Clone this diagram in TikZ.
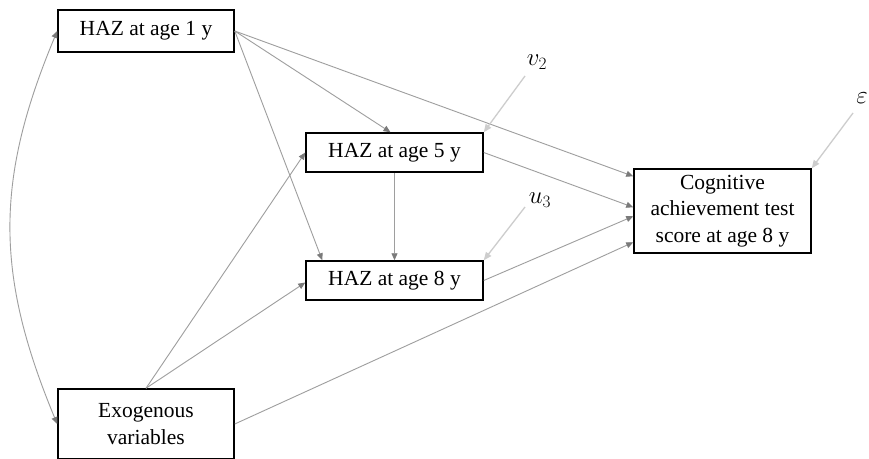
\documentclass[tikz,border=0pt]{standalone}
\usepackage{fontspec}
\setmainfont{Liberation Serif}
\usetikzlibrary{arrows.meta,calc}
\definecolor{lnc}{HTML}{9E9E9E}
\definecolor{tipc}{HTML}{7A7A7A}
\definecolor{errc}{HTML}{CDCDCD}
\tikzset{
  box/.style={draw=black, line width=1.5pt, inner sep=0pt, align=center,
    font=\fontsize{21.5}{26.5}\selectfont},
  path/.style={draw=lnc, line width=0.9pt, -{Triangle[length=7pt,width=6pt,color=tipc]}},
  errpath/.style={draw=errc, line width=1.3pt, -{Triangle[length=8pt,width=6.5pt,color=errc]}},
  errlab/.style={inner sep=0pt, font=\fontsize{23}{26}\selectfont}
}
\begin{document}
\begin{tikzpicture}[x=1pt,y=-1pt]
\useasboundingbox (0,0) rectangle (869,458);
\fill[white] (0,0) rectangle (869,458);
\node[box, minimum width=176pt, minimum height=42pt] (haz1) at (146,31) {HAZ at age 1 y};
\node[box, minimum width=177pt, minimum height=39pt] (haz5) at (394.5,152.5) {HAZ at age 5 y};
\node[box, minimum width=177pt, minimum height=39pt] (haz8) at (394.5,280.5) {HAZ at age 8 y};
\node[box, minimum width=177pt, minimum height=84pt] (cog) at (722.5,211) {Cognitive\\achievement test\\score at age 8 y};
\node[box, minimum width=176pt, minimum height=70pt] (exo) at (146,424) {Exogenous\\variables};
\node[errlab] (v2) at (537,62) {$v_{2}$};
\node[errlab] (u3) at (540,200) {$u_{3}$};
\node[errlab] (eps) at (862,98) {$\varepsilon$};
\coordinate (v2t) at (525,76);
\coordinate (u3t) at (525,207);
\coordinate (epst) at (853,113);
% structural paths
\draw[path] (haz1.east) -- ([xshift=-4pt]haz5.north);
\draw[path] (haz1.east) -- ($(cog.north west)+(0,8)$);
\draw[path] (haz1.east) -- ($(haz8.north west)+(17,0)$);
\draw[path] (haz5.south) -- (haz8.north);
\draw[path] (haz5.east) -- ($(cog.north west)+(0,39)$);
\draw[path] (haz8.east) -- ($(cog.north west)+(0,48)$);
\draw[path] (exo.north) -- (haz5.west);
\draw[path] (exo.north) -- ($(haz8.west)+(0,2)$);
\draw[path] (exo.east) -- ($(cog.north west)+(0,74)$);
\draw[path, {Triangle[length=7pt,width=6pt,color=tipc]}-{Triangle[length=7pt,width=6pt,color=tipc]}]
  (haz1.west) .. controls (-5,180) and (-5,274) .. (exo.west);
% error terms
\draw[errpath] (v2t) -- (haz5.north east);
\draw[errpath] (u3t) -- (haz8.north east);
\draw[errpath] (epst) -- (cog.north east);
\end{tikzpicture}
\end{document}
